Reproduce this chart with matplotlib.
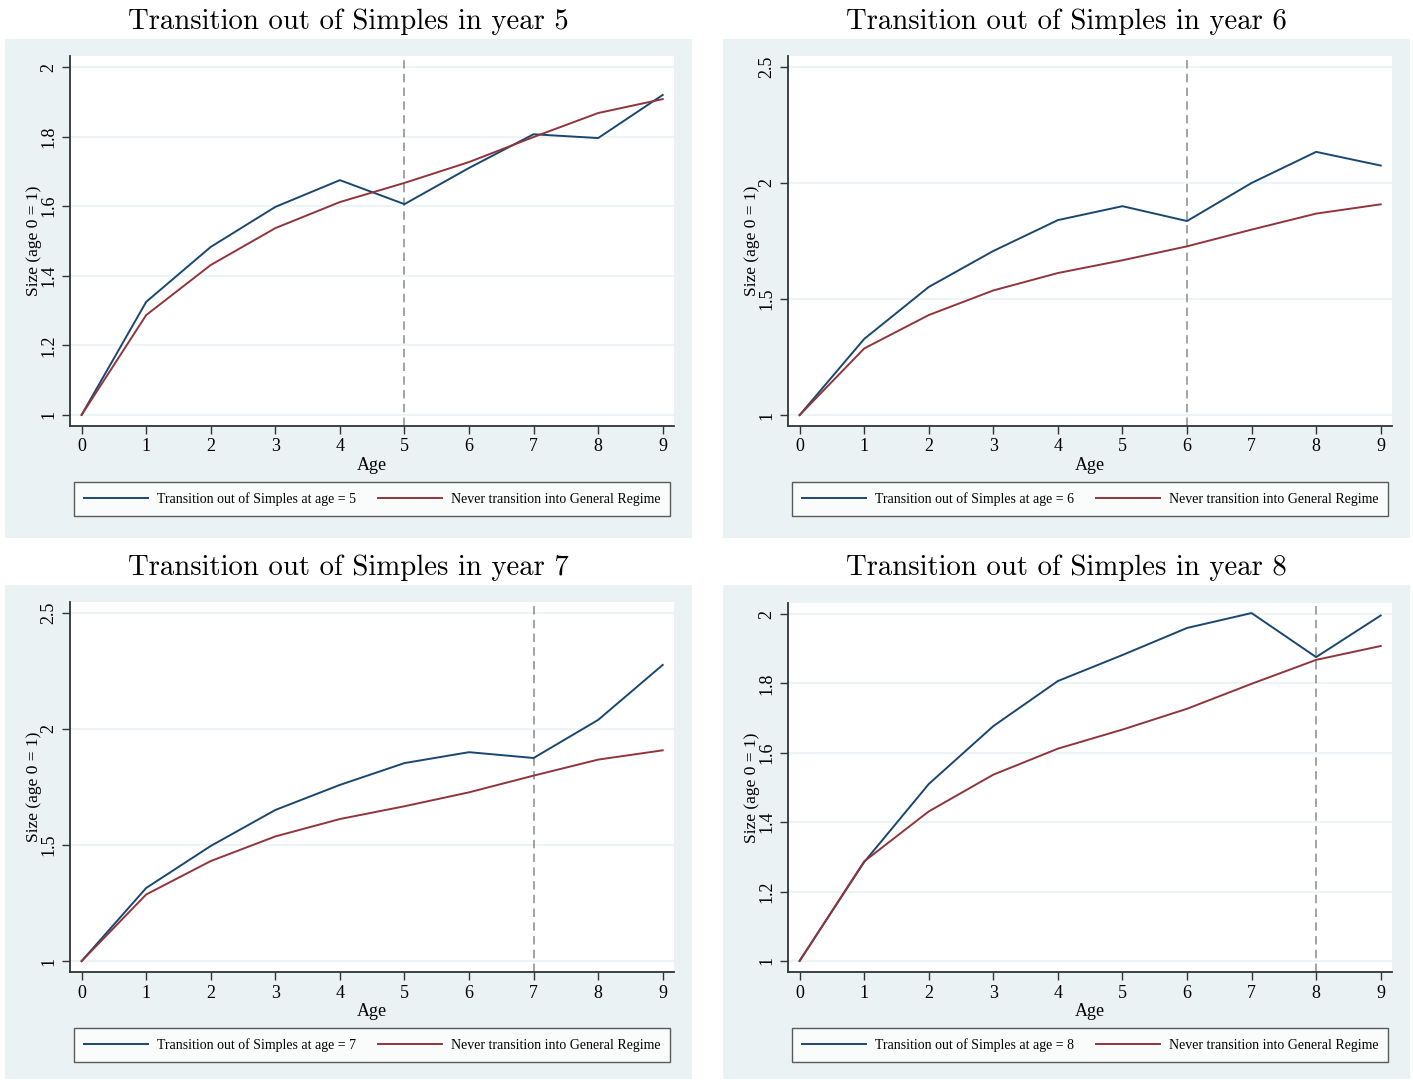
import matplotlib
matplotlib.use("Agg")
import matplotlib.pyplot as plt
from matplotlib.patches import Rectangle

# age axis and the reference group (never moved into the General Regime)
ages = list(range(10))
never = [1.0, 1.287, 1.431, 1.537, 1.612, 1.667, 1.727, 1.799, 1.868, 1.908]

# firms that left Simples in a given year
years = [5, 6, 7, 8]
trans_y5 = [1.0, 1.325, 1.483, 1.598, 1.675, 1.606, 1.710, 1.807, 1.796, 1.920]
trans_y6 = [1.0, 1.328, 1.552, 1.707, 1.840, 1.900, 1.836, 2.000, 2.134, 2.075]
trans_y7 = [1.0, 1.315, 1.496, 1.651, 1.759, 1.853, 1.900, 1.875, 2.039, 2.276]
trans_y8 = [1.0, 1.285, 1.510, 1.677, 1.807, 1.882, 1.960, 2.003, 1.876, 1.996]

yticks_small = [1, 1.2, 1.4, 1.6, 1.8, 2]
yticks_big = [1, 1.5, 2, 2.5]
ytick_labels_small = ["1", "1.2", "1.4", "1.6", "1.8", "2"]
ytick_labels_big = ["1", "1.5", "2", "2.5"]

W, H = 1413, 1080
BG = "#EAF2F3"
NAVY = "#1a476f"
MAROON = "#90353b"
SERIF = ["Liberation Serif", "DejaVu Serif"]


def fbox(x0, y0, x1, y1):
    # pixel box (top-left origin) -> figure fraction [l, b, w, h]
    return [x0 / W, 1 - y1 / H, (x1 - x0) / W, (y1 - y0) / H]


fig = plt.figure(figsize=(W / 100, H / 100), dpi=100)
fig.patch.set_facecolor("white")

panels = [
    # (year, series, ticks, labels, ylim, panel box, axes box)
    (years[0], trans_y5, yticks_small, ytick_labels_small, (0.968, 2.032),
     (5, 39, 692, 538), (70, 56, 674, 426)),
    (years[1], trans_y6, yticks_big, ytick_labels_big, (0.953, 2.547),
     (723, 39, 1410, 538), (788, 56, 1392, 426)),
    (years[2], trans_y7, yticks_big, ytick_labels_big, (0.953, 2.547),
     (5, 585, 692, 1079), (70, 602, 674, 972)),
    (years[3], trans_y8, yticks_small, ytick_labels_small, (0.968, 2.032),
     (723, 585, 1410, 1079), (788, 603, 1392, 972)),
]

for year, series, ticks, labels, ylim, pbox, abox in panels:
    px0, py0, px1, py1 = pbox
    fig.patches.append(Rectangle((px0 / W, 1 - py1 / H), (px1 - px0) / W,
                                 (py1 - py0) / H, transform=fig.transFigure,
                                 facecolor=BG, edgecolor="none", zorder=-10))
    fig.text((px0 + px1) / 2 / W, 1 - (py0 - 17) / H,
             f"Transition out of Simples in year {year}",
             ha="center", va="center", fontsize=20.7, family="cmr10")

    ax = fig.add_axes(fbox(*abox))
    ax.set_facecolor("white")
    ax.set_xlim(-0.18, 9.175)
    ax.set_ylim(*ylim)
    ax.set_xticks(ages)
    ax.set_xticklabels([str(a) for a in ages], family=SERIF, fontsize=13)
    ax.set_yticks(ticks)
    ax.set_yticklabels(labels, family=SERIF, fontsize=13, rotation=90,
                       va="center")
    ax.grid(axis="y", color=BG, linewidth=1.2)
    ax.set_axisbelow(True)
    for side in ("top", "right"):
        ax.spines[side].set_visible(False)
    for side in ("left", "bottom"):
        ax.spines[side].set_color("#333333")
        ax.spines[side].set_linewidth(1.3)
    ax.tick_params(length=6, width=1, color="#333333", pad=3)

    ax.axvline(year, color="#8a8a8a", linestyle=(0, (5.5, 3.5)), linewidth=1.1)
    ax.plot(ages, series, color=NAVY, linewidth=1.4,
            label=f"Transition out of Simples at age = {year}")
    ax.plot(ages, never, color=MAROON, linewidth=1.4,
            label="Never transition into General Regime")

    ax.set_xlabel("Age", family=SERIF, fontsize=13, labelpad=1)
    ax.set_ylabel("Size (age 0 = 1)", family=SERIF, fontsize=12.5, labelpad=-1)

    ax0, ay0, ax1, ay1 = abox
    leg = ax.legend(loc="center", ncol=2, prop={"family": SERIF, "size": 10},
                    bbox_to_anchor=((ax0 + ax1) / 2 / W, 1 - (ay1 + 73) / H),
                    bbox_transform=fig.transFigure, frameon=True, fancybox=False,
                    handlelength=4.6, handletextpad=0.65, columnspacing=1.6,
                    borderpad=0.7)
    leg.get_frame().set_edgecolor("#333333")
    leg.get_frame().set_linewidth(1.0)

fig.savefig("out.png", dpi=100, facecolor="white")
